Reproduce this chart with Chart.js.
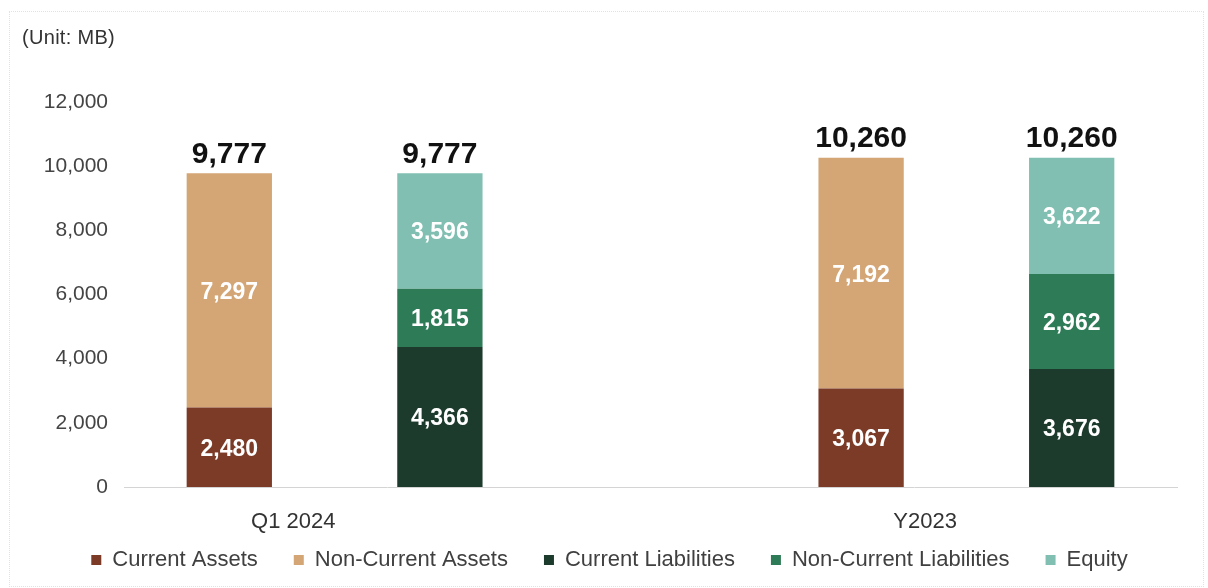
<!DOCTYPE html>
<html>
<head>
<meta charset="utf-8">
<script src="https://cdn.jsdelivr.net/npm/chart.js@4.4.1/dist/chart.umd.min.js"></script>
<style>
  html, body { margin: 0; padding: 0; background: #fff; }
  #wrap { position: relative; width: 1208px; height: 588px; }
  #frame { position: absolute; left: 9px; top: 11px; width: 1193px; height: 574px; border: 1px dotted #e2e2e2; pointer-events: none; }
  #unit { position: absolute; left: 22px; top: 26px; font: 20px "Liberation Sans", Arial, sans-serif; letter-spacing: 0.3px; color: #333; }
</style>
</head>
<body>
<div id="wrap">
  <canvas id="bs" width="1208" height="588"></canvas>
  <div id="frame"></div>
  <div id="unit">(Unit: MB)</div>
</div>
<script>
// periods shown on the x axis
const periods = ['Q1 2024', 'Y2023'];

// assets side
const currentAssets = [2480, 3067];
const nonCurrentAssets = [7297, 7192];
// liabilities + equity side
const currentLiabilities = [4366, 3676];
const nonCurrentLiabilities = [1815, 2962];
const equity = [3596, 3622];
// totals printed above the bars
const assetTotals = [9777, 10260];
const liabEquityTotals = [9777, 10260];

const yTicks = [0, 2000, 4000, 6000, 8000, 10000, 12000];

const colors = {
    currentAssets: '#7b3b27',
    nonCurrentAssets: '#d4a575',
    currentLiabilities: '#1d3b2d',
    nonCurrentLiabilities: '#2e7b57',
    equity: '#80bfb1'
};

// 5 slots: assets bar, liab bar, empty gap, assets bar, liab bar
const slots = ['a0', 'l0', 'gap', 'a1', 'l1'];
const assetSlot = (arr) => [arr[0], null, null, arr[1], null];
const liabSlot = (arr) => [null, arr[0], null, null, arr[1]];
const slotTotals = [assetTotals[0], liabEquityTotals[0], null, assetTotals[1], liabEquityTotals[1]];
const slotLabel = { 0: periods[0], 3: periods[1] };

const fmt = (v) => v.toLocaleString('en-US');
const FONT = '"Liberation Sans", Arial, sans-serif';

const valueLabels = {
    id: 'valueLabels',
    afterDatasetsDraw(chart) {
        const ctx = chart.ctx;
        ctx.save();
        ctx.textAlign = 'center';
        ctx.textBaseline = 'middle';
        ctx.fillStyle = '#fff';
        ctx.font = 'bold 23px ' + FONT;
        const tops = {};
        chart.data.datasets.forEach((ds, di) => {
            const meta = chart.getDatasetMeta(di);
            meta.data.forEach((bar, i) => {
                const v = ds.data[i];
                if (v == null) return;
                ctx.fillText(fmt(v), bar.x, (bar.y + bar.base) / 2 + 2);
                if (tops[i] == null || bar.y < tops[i].y) tops[i] = { x: bar.x, y: bar.y };
            });
        });
        ctx.fillStyle = '#111';
        ctx.font = 'bold 30px ' + FONT;
        ctx.textBaseline = 'bottom';
        Object.keys(tops).forEach(i => {
            const t = slotTotals[i];
            if (t != null) ctx.fillText(fmt(t), tops[i].x, tops[i].y - 4);
        });
        ctx.restore();
    }
};

const ds = (label, data, color) => ({
    label: label,
    data: data,
    backgroundColor: color,
    borderWidth: 0,
    barPercentage: 0.405,
    categoryPercentage: 1.0
});

new Chart(document.getElementById('bs').getContext('2d'), {
    type: 'bar',
    data: {
        labels: slots,
        datasets: [
            ds('Current Assets', assetSlot(currentAssets), colors.currentAssets),
            ds('Non-Current Assets', assetSlot(nonCurrentAssets), colors.nonCurrentAssets),
            ds('Current Liabilities', liabSlot(currentLiabilities), colors.currentLiabilities),
            ds('Non-Current Liabilities', liabSlot(nonCurrentLiabilities), colors.nonCurrentLiabilities),
            ds('Equity', liabSlot(equity), colors.equity)
        ]
    },
    options: {
        responsive: false,
        animation: false,
        layout: { padding: { top: 102, right: 31, left: 42, bottom: 7 } },
        scales: {
            x: {
                stacked: true,
                grid: { display: false, drawTicks: false },
                border: { display: true, color: '#d4d4d4', dash: [2, 2] },
                afterFit: (scale) => { scale.height = 26; },
                ticks: {
                    // mirror keeps the labels from being clipped to the short axis box;
                    // negative padding then pushes them back below the axis line
                    mirror: true,
                    padding: -48,
                    labelOffset: 64,
                    maxRotation: 0,
                    autoSkip: false,
                    color: '#333',
                    font: { family: FONT, size: 22 },
                    callback: (val, i) => slotLabel[i] || ''
                }
            },
            y: {
                stacked: true,
                min: 0,
                max: 12000,
                afterFit: (scale) => { scale.width = 82; },
                afterBuildTicks: (scale) => { scale.ticks = yTicks.map(v => ({ value: v })); },
                grid: { display: false, drawTicks: false },
                border: { display: false },
                ticks: {
                    padding: 16,
                    color: '#444',
                    font: { family: FONT, size: 21 },
                    callback: (v) => fmt(v)
                }
            }
        },
        plugins: {
            legend: {
                position: 'bottom',
                labels: {
                    boxWidth: 10,
                    boxHeight: 10,
                    padding: 36,
                    color: '#404040',
                    font: { family: FONT, size: 22 }
                }
            },
            tooltip: { enabled: false }
        }
    },
    plugins: [valueLabels]
});
</script>
</body>
</html>
